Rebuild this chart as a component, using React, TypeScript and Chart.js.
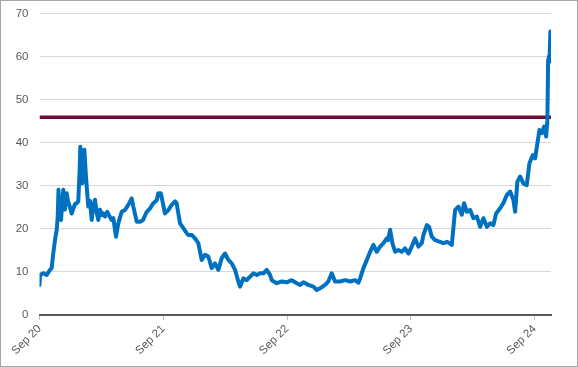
import React, { useEffect, useRef } from "react";
import { Chart, registerables } from "chart.js";

Chart.register(...registerables);

// Months elapsed since Sep 2020 for each observation
const monthsSinceSep2020 = [
  0, 0.05, 0.37, 0.7, 1.02, 1.18, 1.34, 1.5, 1.67, 1.77, 1.84, 1.94, 2.09, 2.23, 2.31, 2.47, 2.64, 2.76, 2.96,
  3.12, 3.25, 3.44, 3.61, 3.76, 3.88, 3.96, 4.07, 4.15, 4.25, 4.35, 4.51, 4.73, 4.9, 5.06, 5.19, 5.38, 5.53,
  5.7, 5.87, 6.03, 6.19, 6.35, 6.58, 6.74, 7.0, 7.16, 7.42, 7.64, 7.97, 8.29, 8.61, 8.94, 9.1, 9.43, 9.75,
  10.04, 10.4, 10.72, 11.04, 11.37, 11.52, 11.76, 11.88, 12.17, 12.49, 12.82, 13.14, 13.29, 13.63, 13.95,
  14.28, 14.43, 14.76, 15.08, 15.4, 15.73, 16.05, 16.37, 16.7, 17.02, 17.34, 17.67, 17.99, 18.31, 18.64,
  18.96, 19.28, 19.45, 19.77, 20.1, 20.42, 20.74, 21.07, 21.39, 21.71, 22.04, 22.36, 22.52, 23.01, 23.49,
  23.98, 24.46, 24.95, 25.27, 25.59, 26.07, 26.56, 26.89, 27.21, 27.69, 28.01, 28.34, 28.66, 29.15, 29.63,
  30.12, 30.6, 30.92, 31.09, 31.41, 31.74, 32.06, 32.38, 32.71, 33.03, 33.35, 33.68, 33.8, 34.0, 34.22,
  34.48, 34.8, 35.13, 35.45, 35.77, 36.1, 36.42, 36.74, 37.07, 37.23, 37.56, 37.78, 38.04, 38.36, 38.84,
  39.17, 39.53, 39.98, 40.3, 40.62, 40.95, 41.17, 41.44, 41.76, 42.08, 42.41, 42.73, 43.05, 43.38, 43.7,
  44.01, 44.28, 44.66, 44.98, 45.32, 45.64, 45.96, 46.12, 46.34, 46.61, 46.92, 47.25, 47.51, 47.84, 48.06,
  48.28, 48.48, 48.71, 48.93, 49.13, 49.25, 49.32, 49.39, 49.45, 49.54,
];

const seriesValues = [
  7.0, 9.3, 9.7, 9.3, 10.5, 10.9, 14.4, 17.4, 19.8, 22.9, 29.1, 24.0, 22.1, 27.0, 29.1, 24.5, 28.3, 26.5, 25.0,
  23.6, 24.5, 25.8, 26.0, 26.4, 33.0, 39.1, 35.0, 30.6, 34.0, 38.4, 32.0, 25.2, 26.5, 22.1, 25.0, 26.8, 24.0,
  22.1, 24.5, 23.2, 23.6, 22.9, 24.0, 23.2, 22.1, 22.5, 18.2, 21.3, 24.0, 24.4, 25.6, 27.1, 25.2, 21.7, 21.7,
  22.1, 24.0, 24.8, 26.0, 26.7, 28.3, 28.3, 27.0, 23.6, 24.4, 25.6, 26.4, 26.0, 21.3, 20.2,
  19.0, 18.6, 18.6, 17.8, 16.7, 12.8, 14.0, 13.6, 10.9, 12.0, 10.5, 13.2, 14.3, 12.8, 12.0,
  10.5, 7.8, 6.6, 8.5, 8.1, 8.9, 9.7, 9.3, 9.7, 9.7, 10.5, 9.3, 8.1, 7.4, 7.8,
  7.6, 8.1, 7.4, 7.0, 7.6, 7.0, 6.6, 5.8, 6.2, 7.0, 7.8, 9.7, 7.8, 7.8, 8.1,
  7.8, 8.1, 7.5, 8.5, 10.9, 12.8, 14.7, 16.3, 14.7, 15.9, 16.7, 17.8, 17.4, 19.8, 16.7,
  14.7, 15.1, 14.7, 15.5, 14.3, 15.9, 17.8, 15.9, 16.7, 18.6, 20.9, 20.5, 18.2, 17.4, 17.0,
  16.7, 17.0, 16.3, 24.4, 25.2, 23.3, 26.0, 24.0, 24.4, 22.5, 22.9, 20.5, 22.5, 20.5, 21.3,
  20.9, 23.6, 24.8, 26.0, 27.9, 28.7, 26.7, 24.0, 31.0, 32.2, 30.6, 30.2, 35.3, 37.2, 36.4,
  39.9, 43.0, 42.3, 43.8, 41.5, 45.3, 59.3, 60.1, 58.9, 65.9,
];

const xTickMonths = [0, 12, 24, 36, 48];
const xTickLabels = ["Sep 20", "Sep 21", "Sep 22", "Sep 23", "Sep 24"];
const xAxisEndMonth = 49.6;
const yMin = 0;
const yMax = 70;
const yStep = 10;
const thresholdValue = 46;

export default function App() {
  const canvasRef = useRef<HTMLCanvasElement | null>(null);

  useEffect(() => {
    if (!canvasRef.current) return;
    const font = { family: "'Liberation Sans', Arial, sans-serif", size: 11.5 };
    const borderPlugin = {
      id: "outerBorder",
      afterDraw(chart: any) {
        const ctx = chart.ctx;
        ctx.save();
        ctx.strokeStyle = "#a6a6a6";
        ctx.lineWidth = 1;
        ctx.strokeRect(0.5, 0.5, chart.width - 1, chart.height - 1);
        ctx.restore();
      },
    };
    const chart = new Chart(canvasRef.current, {
      type: "line",
      data: {
        datasets: [
          {
            data: monthsSinceSep2020.map((m, i) => ({ x: m, y: seriesValues[i] })),
            borderColor: "#0070c0",
            borderWidth: 4,
            pointRadius: 0,
            tension: 0,
            borderJoinStyle: "round",
            borderCapStyle: "round",
          },
          {
            data: [
              { x: 0, y: thresholdValue },
              { x: xAxisEndMonth, y: thresholdValue },
            ],
            borderColor: "#6e0b3b",
            borderWidth: 3.5,
            pointRadius: 0,
          },
        ],
      },
      options: {
        animation: false,
        responsive: false,
        devicePixelRatio: 1,
        layout: { padding: { left: 0, right: 27, top: 0, bottom: 0 } },
        plugins: { legend: { display: false }, tooltip: { enabled: false } },
        scales: {
          x: {
            type: "linear",
            min: 0,
            max: xAxisEndMonth,
            afterBuildTicks: (scale: any) => {
              scale.ticks = xTickMonths.map((v) => ({ value: v }));
            },
            afterFit: (scale: any) => {
              scale.height = 52;
            },
            ticks: {
              autoSkip: false,
              maxRotation: 45,
              minRotation: 45,
              padding: 2,
              color: "#595959",
              font,
              callback: (v: any) => {
                const i = xTickMonths.indexOf(Number(v));
                return i >= 0 ? xTickLabels[i] : "";
              },
            },
            grid: { drawOnChartArea: false, drawTicks: true, tickLength: 5, color: "#bfbfbf" },
            border: { color: "#595959", width: 2 },
          },
          y: {
            min: yMin,
            max: yMax,
            afterFit: (scale: any) => {
              scale.width = 39.5;
            },
            ticks: { stepSize: yStep, padding: 7, color: "#595959", font },
            grid: { color: "#d9d9d9", drawTicks: true, tickLength: 4, tickColor: "rgba(0,0,0,0)" },
            border: { display: false },
          },
        },
      },
      plugins: [borderPlugin],
    } as any);
    return () => chart.destroy();
  }, []);

  return (
    <div style={{ position: "absolute", left: 0, top: 0, width: 578, height: 367, background: "#fff" }}>
      <canvas ref={canvasRef} width={578} height={367} />
    </div>
  );
}
